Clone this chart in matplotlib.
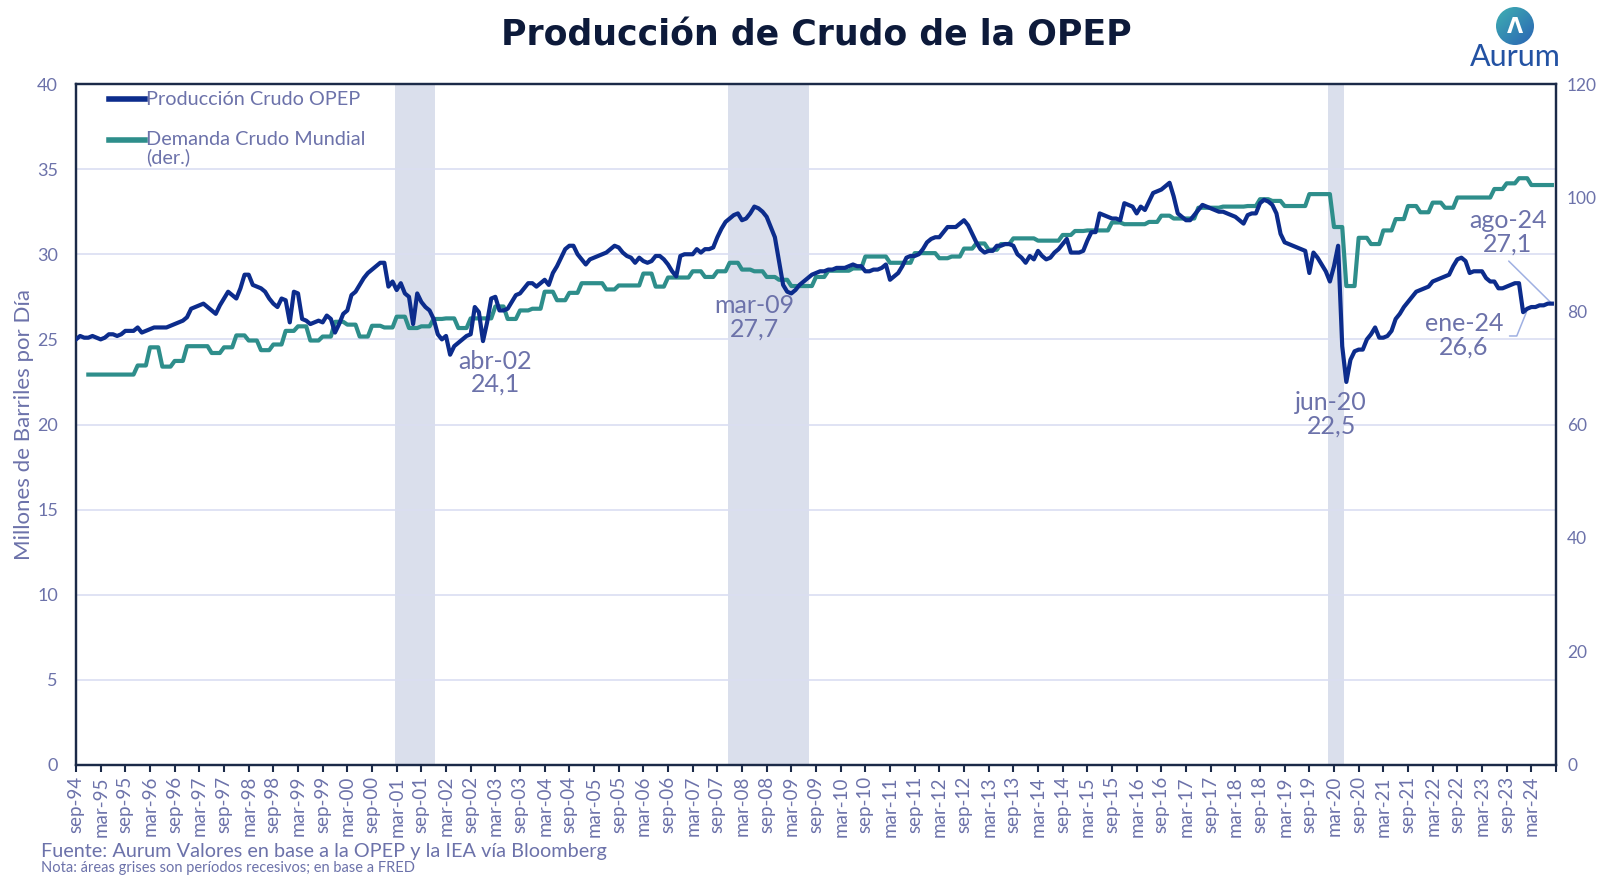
import numpy as np
import matplotlib
matplotlib.use('Agg')
import matplotlib.pyplot as plt
from matplotlib.lines import Line2D
from matplotlib.patches import Circle
from matplotlib.colors import LinearSegmentedColormap

plt.rcParams['font.family'] = ['Lato', 'DejaVu Sans']

# Produccion de crudo OPEP (millones de barriles/dia), mensual sep-94 .. ago-24
# una fila por año sep..ago
produccion_opep = [
    25.0, 25.2, 25.1, 25.1, 25.2, 25.1, 25.0, 25.1, 25.3, 25.3, 25.2, 25.3,
    25.5, 25.5, 25.5, 25.7, 25.4, 25.5, 25.6, 25.7, 25.7, 25.7, 25.7, 25.8,
    25.9, 26.0, 26.1, 26.3, 26.8, 26.9, 27.0, 27.1, 26.9, 26.7, 26.5, 27.0,
    27.4, 27.8, 27.6, 27.4, 28.0, 28.8, 28.8, 28.2, 28.1, 28.0, 27.8, 27.4,
    27.1, 26.9, 27.4, 27.3, 26.0, 27.8, 27.7, 26.2, 26.1, 25.9, 26.0, 26.1,
    26.0, 26.4, 26.2, 25.4, 25.9, 26.5, 26.7, 27.6, 27.8, 28.2, 28.6, 28.9,
    29.1, 29.3, 29.5, 29.5, 28.1, 28.4, 27.9, 28.3, 27.7, 27.5, 25.9, 27.7,
    27.2, 26.9, 26.7, 26.2, 25.3, 25.0, 25.2, 24.1, 24.6, 24.8, 25.0, 25.2,
    25.3, 26.9, 26.6, 24.9, 26.0, 27.4, 27.5, 26.7, 26.7, 26.8, 27.2, 27.6,
    27.7, 28.0, 28.3, 28.3, 28.1, 28.3, 28.5, 28.2, 28.9, 29.3, 29.8, 30.3,
    30.5, 30.5, 30.0, 29.7, 29.4, 29.7, 29.8, 29.9, 30.0, 30.1, 30.3, 30.5,
    30.4, 30.1, 29.9, 29.8, 29.5, 29.8, 29.6, 29.5, 29.6, 29.9, 29.9, 29.7,
    29.4, 29.0, 28.7, 29.9, 30.0, 30.0, 30.0, 30.3, 30.1, 30.3, 30.3, 30.4,
    31.0, 31.5, 31.9, 32.1, 32.3, 32.4, 32.0, 32.1, 32.4, 32.8, 32.7, 32.5,
    32.2, 31.6, 31.0, 29.6, 28.2, 27.8, 27.7, 27.9, 28.2, 28.4, 28.6, 28.8,
    28.9, 29.0, 29.0, 29.1, 29.1, 29.2, 29.2, 29.2, 29.3, 29.4, 29.3, 29.3,
    29.0, 29.0, 29.1, 29.1, 29.2, 29.4, 28.5, 28.7, 28.9, 29.3, 29.8, 29.9,
    29.9, 30.0, 30.3, 30.7, 30.9, 31.0, 31.0, 31.3, 31.6, 31.6, 31.6, 31.8,
    32.0, 31.7, 31.2, 30.7, 30.3, 30.1, 30.2, 30.2, 30.5, 30.5, 30.6, 30.6,
    30.5, 30.0, 29.8, 29.5, 29.9, 29.7, 30.2, 29.9, 29.7, 29.8, 30.1, 30.3,
    30.6, 30.9, 30.1, 30.1, 30.1, 30.2, 30.8, 31.3, 31.3, 32.4, 32.3, 32.2,
    32.1, 32.1, 32.0, 33.0, 32.9, 32.8, 32.4, 32.8, 32.6, 33.1, 33.6, 33.7,
    33.8, 34.0, 34.2, 33.4, 32.4, 32.2, 32.0, 32.0, 32.3, 32.6, 32.9, 32.8,
    32.7, 32.6, 32.5, 32.5, 32.4, 32.3, 32.2, 32.0, 31.8, 32.3, 32.4, 32.4,
    33.0, 33.2, 33.1, 32.9, 32.4, 31.2, 30.7, 30.6, 30.5, 30.4, 30.3, 30.2,
    28.9, 30.1, 29.8, 29.4, 29.0, 28.4, 29.3, 30.5, 24.6, 22.5, 23.8, 24.3,
    24.4, 24.4, 25.0, 25.3, 25.7, 25.1, 25.1, 25.2, 25.5, 26.2, 26.5, 26.9,
    27.2, 27.5, 27.8, 27.9, 28.0, 28.1, 28.4, 28.5, 28.6, 28.7, 28.8, 29.3,
    29.7, 29.8, 29.6, 28.9, 29.0, 29.0, 29.0, 28.6, 28.4, 28.4, 28.0, 28.0,
    28.1, 28.2, 28.3, 28.3, 26.6, 26.8, 26.9, 26.9, 27.0, 27.0, 27.1, 27.1,
]

# Demanda mundial de crudo (der.), trimestral 4T-94 .. 2T-24,
# cada trimestre se mantiene 3 meses desde dic-94
demanda_mundial = [
    68.8, 68.8, 68.8, 68.8, 70.4, 73.6, 70.2, 71.2, 73.8, 73.8,
    72.6, 73.6, 75.7, 74.8, 73.1, 74.1, 76.5, 77.3, 74.8, 75.5,
    78.1, 77.6, 75.5, 77.4, 77.1, 79.0, 77.0, 77.3, 78.6, 78.7,
    77.0, 78.7, 78.7, 80.8, 78.6, 80.1, 80.4, 83.4, 81.9, 83.2,
    84.9, 84.9, 83.8, 84.5, 84.5, 86.6, 84.3, 85.9, 85.9, 87.0,
    86.0, 87.0, 88.5, 87.3, 87.0, 86.0, 85.5, 84.4, 84.4, 86.0,
    87.1, 87.1, 87.5, 89.6, 89.6, 88.5, 88.5, 90.2, 90.2, 89.3,
    89.6, 91.0, 91.9, 90.8, 91.8, 92.8, 92.8, 92.4, 92.4, 93.4,
    94.1, 94.2, 94.2, 95.6, 95.3, 95.3, 95.7, 96.8, 96.3, 96.3,
    98.2, 98.2, 98.4, 98.4, 98.5, 99.7, 99.4, 98.5, 98.5, 100.6,
    100.6, 94.8, 84.4, 92.9, 91.8, 94.2, 96.2, 98.5, 97.4, 99.1,
    98.2, 100.0, 100.0, 100.0, 101.5, 102.5, 103.4, 102.2, 102.2,
]

# periodos recesivos (indice de mes desde sep-94): mar-01..nov-01, dic-07..jun-09, feb-20..abr-20
recesiones = [(78, 86), (159, 177), (305, 307)]

meses_es = ['sep', 'mar']
tick_labels = []
for i in range(60):
    anio = (94 + (i + 1) // 2) % 100
    tick_labels.append('{}-{:02d}'.format(meses_es[i % 2], anio))

# etiquetas: (mes, valor del texto, texto)
etiquetas = [(102, 23.05, 'abr-02\n24,1'),
             (165, 26.3, 'mar-09\n27,7'),
             (305.3, 20.6, 'jun-20\n22,5'),
             (337.6, 25.25, 'ene-24\n26,6'),
             (348.3, 31.3, 'ago-24\n27,1')]

c_prod = '#0c2c8c'
c_dem = '#2e8e8b'
c_txt = '#6c72aa'
c_navy = '#0d1a3a'
c_spine = '#1b2a48'
c_grid = '#dadef2'
c_rec = '#dadfec'

meses = np.arange(len(produccion_opep))
meses_dem = 3 + np.arange(len(demanda_mundial) * 3)
demanda_mensual = np.repeat(demanda_mundial, 3)

fig = plt.figure(figsize=(16, 8.92), dpi=100)
ax = fig.add_axes([0.0475, 0.1424, 0.925, 0.7634])
ax2 = ax.twinx()

# sombreado y rejilla en el eje de abajo (der.), para que la demanda quede encima
for s, e in recesiones:
    ax2.axvspan(s - 0.4, e + 1.4, color=c_rec, lw=0, zorder=0)
for yv in range(5, 40, 5):
    ax2.axhline(yv * 3, color=c_grid, lw=1.2, zorder=0.5)

ax2.plot(meses_dem, demanda_mensual, color=c_dem, lw=3, solid_joinstyle='round', zorder=3)
ax.plot(meses, produccion_opep, color=c_prod, lw=3, solid_joinstyle='round', zorder=4)
ax.set_zorder(ax2.get_zorder() + 1)
ax.patch.set_visible(False)

ax.set_xlim(0, 360)
ax.set_ylim(0, 40)
ax2.set_ylim(0, 120)
ax.set_yticks(range(0, 41, 5))
ax2.set_yticks(range(0, 121, 20))
ax.set_xticks(range(0, 361, 6))
ax.set_xticklabels(tick_labels + [''], rotation=90)

ax.tick_params(axis='x', direction='out', length=5, width=1.5, color=c_spine,
               labelsize=13.5, labelcolor=c_txt, pad=3)
ax.tick_params(axis='y', length=0, labelsize=13, labelcolor=c_txt, pad=13)
ax2.tick_params(axis='y', length=0, labelsize=12.5, labelcolor=c_txt, pad=8)
for a in (ax, ax2):
    for sp in a.spines.values():
        sp.set_color(c_spine)
        sp.set_linewidth(1.6)

# leyenda manual
ax.add_line(Line2D([0.022, 0.0466], [0.978, 0.978], transform=ax.transAxes, color=c_prod, lw=4))
ax.add_line(Line2D([0.022, 0.0466], [0.918, 0.918], transform=ax.transAxes, color=c_dem, lw=4))
ax.text(0.0475, 0.978, 'Producción Crudo OPEP', transform=ax.transAxes, va='center',
        fontsize=14.3, color=c_txt)
ax.text(0.0475, 0.918, 'Demanda Crudo Mundial', transform=ax.transAxes, va='center',
        fontsize=14.3, color=c_txt)
ax.text(0.0475, 0.893, '(der.)', transform=ax.transAxes, va='center',
        fontsize=14.3, color=c_txt)

for xm, yv, txt in etiquetas:
    ax.text(xm, yv, txt, ha='center', va='center', fontsize=18, color=c_txt,
            linespacing=1.0, zorder=6)

ax.annotate('', xy=(359, produccion_opep[359]), xytext=(348.5, 29.6),
            arrowprops=dict(arrowstyle='-', color='#9fb0e2', lw=1.1, shrinkA=0, shrinkB=0))
ax.annotate('', xy=(352.8, produccion_opep[352]), xytext=(348.7, 25.2),
            arrowprops=dict(arrowstyle='-', color='#9fb0e2', lw=1.1, shrinkA=0, shrinkB=0,
                            connectionstyle='angle,angleA=0,angleB=68,rad=0'))

fig.text(0.0153, 0.524, 'Millones de Barriles por Día', rotation=90, ha='center', va='center',
         fontsize=16, color=c_txt)
fig.text(0.51, 1 - 35 / 892, 'Producción de Crudo de la OPEP', ha='center', va='center',
         fontsize=25, fontweight='bold', color=c_navy, family='DejaVu Sans')
fig.text(0.0256, 1 - 851 / 892, 'Fuente: Aurum Valores en base a la OPEP y la IEA vía Bloomberg',
         ha='left', va='center', fontsize=14.3, color=c_txt)
fig.text(0.0256, 1 - 868 / 892, 'Nota: áreas grises son períodos recesivos; en base a FRED',
         ha='left', va='center', fontsize=10.5, color=c_txt)

# logo
lax = fig.add_axes([1496 / 1600, 1 - 45 / 892, 38 / 1600, 38 / 892])
grad = np.linspace(0, 1, 100)
gx, gy = np.meshgrid(grad, grad)
cmap = LinearSegmentedColormap.from_list('aurum', ['#3fb0b2', '#2a63b4'])
im = lax.imshow((gx + gy) / 2, cmap=cmap, extent=(0, 1, 0, 1), origin='upper')
circ = Circle((0.5, 0.5), 0.5, transform=lax.transData)
im.set_clip_path(circ)
lax.text(0.5, 0.47, 'Λ', ha='center', va='center', fontsize=15, color='white',
         fontweight='bold', family='DejaVu Sans')
lax.set_xlim(0, 1)
lax.set_ylim(0, 1)
lax.axis('off')
fig.text(1515 / 1600, 1 - 57 / 892, 'Aurum', ha='center', va='center', fontsize=22,
         color='#2352a3')

fig.savefig('out.png', dpi=100)
